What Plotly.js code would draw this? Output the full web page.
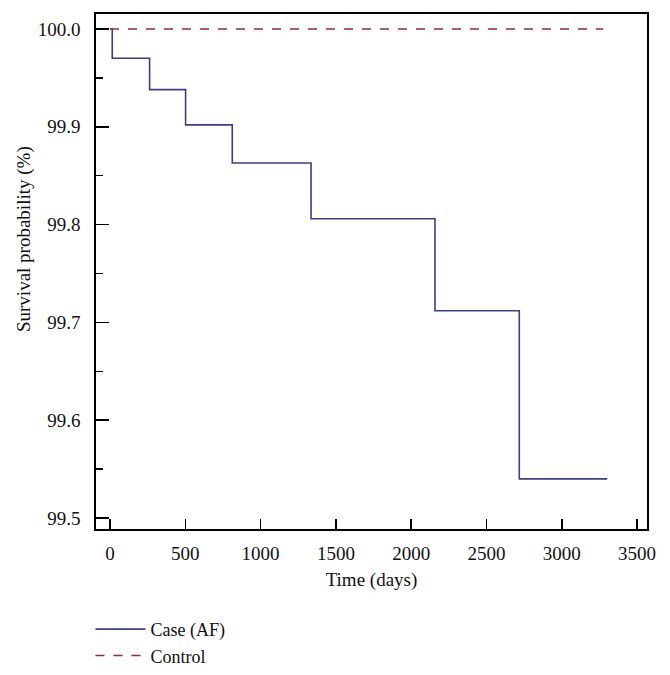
<!DOCTYPE html>
<html>
<head>
<meta charset="utf-8">
<script src="https://cdn.plot.ly/plotly-3.0.1.min.js"></script>
<style>
  html, body { margin: 0; padding: 0; background: #fff; }
  #chart { width: 670px; height: 675px; }
</style>
</head>
<body>
<div id="chart"></div>
<script>
// Kaplan-Meier steps
var caseDays = [0, 15, 15, 263, 263, 502, 502, 812, 812, 1335, 1335, 2158, 2158, 2718, 2718, 3302];
var caseSurv = [100.0, 100.0, 99.970, 99.970, 99.938, 99.938, 99.902, 99.902, 99.863, 99.863, 99.806, 99.806, 99.712, 99.712, 99.540, 99.540];

var controlDays = [0, 3275];
var controlSurv = [100.0, 100.0];

var serif = 'Liberation Serif, DejaVu Serif, serif';

var trace1 = {
    x: caseDays,
    y: caseSurv,
    mode: 'lines',
    name: 'Case (AF)',
    line: { color: 'rgb(60, 60, 140)', width: 1.6 }
};

var trace2 = {
    x: controlDays,
    y: controlSurv,
    mode: 'lines',
    name: 'Control',
    line: { color: 'rgb(150, 40, 60)', width: 1.6, dash: 'dash' }
};

var layout = {
    width: 670,
    height: 675,
    margin: { l: 96, r: 23, t: 14, b: 146, autoexpand: false },
    paper_bgcolor: '#fff',
    plot_bgcolor: '#fff',
    font: { family: serif, size: 19, color: '#111' },
    showlegend: true,
    legend: {
        x: -0.01, y: -0.159, xanchor: 'left', yanchor: 'top',
        font: { family: serif, size: 18, color: '#111' },
        itemwidth: 50,
        tracegroupgap: 0
    },
    xaxis: {
        range: [-93, 3566],
        tick0: 0, dtick: 500,
        ticks: 'inside', ticklen: 10, tickwidth: 1.5, tickcolor: '#000',
        showgrid: false, zeroline: false,
        showline: true, linecolor: '#000', linewidth: 1.8, mirror: true,
        ticklabelstandoff: 6,
        title: { text: 'Time (days)', font: { family: serif, size: 19 }, standoff: 10 }
    },
    yaxis: {
        range: [99.4888, 100.0153],
        tick0: 99.5, dtick: 0.1, tickformat: '.1f',
        ticks: 'inside', ticklen: 13, tickwidth: 1.5, tickcolor: '#000',
        minor: { dtick: 0.05, ticks: 'inside', ticklen: 7, tickwidth: 1.5, tickcolor: '#000' },
        showgrid: false, zeroline: false,
        showline: true, linecolor: '#000', linewidth: 1.8, mirror: true,
        ticklabelstandoff: 10
    },
    annotations: [{
        text: 'Survival probability (%)',
        xref: 'paper', yref: 'paper',
        x: -0.1307, y: 0.563, xanchor: 'center', yanchor: 'middle',
        textangle: -90, showarrow: false,
        font: { family: serif, size: 19, color: '#111' }
    }]
};

Plotly.newPlot('chart', [trace1, trace2], layout, { displayModeBar: false, staticPlot: true });
</script>
</body>
</html>
